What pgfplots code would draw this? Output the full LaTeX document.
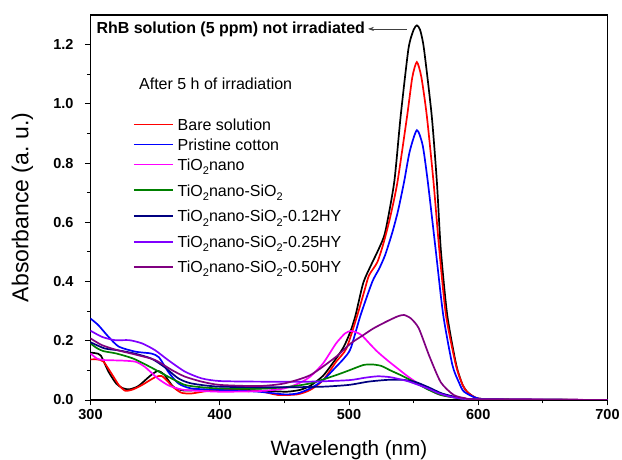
\documentclass[border=0pt]{standalone}
\usepackage{fontspec}
\setmainfont{Liberation Sans}
\usepackage{pgfplots}
\pgfplotsset{compat=1.18}
\usetikzlibrary{arrows.meta}
\definecolor{cnavy}{HTML}{000080}
\definecolor{cviolet}{HTML}{8000FF}
\definecolor{cpurple}{HTML}{800080}
\definecolor{cgreen}{HTML}{008000}
\definecolor{cmag}{HTML}{FF00FF}
\definecolor{cred}{HTML}{FF0000}
\definecolor{cblue}{HTML}{0000FF}
\newcommand\sub[1]{\raisebox{-4.5pt}{\fontsize{11}{11}\selectfont #1}}
\def\lpadval{10pt}
\tikzset{lpad/.store in=\lpadval}
\begin{document}
\begin{tikzpicture}
\begin{axis}[
  scale only axis, width=517pt, height=385pt,
  xmin=300, xmax=700, ymin=0, ymax=1.3,
  xtick={300,400,500,600,700}, ytick={0,0.2,0.4,0.6,0.8,1.0,1.2},
  minor x tick num=1, minor y tick num=1,
  xtick pos=bottom, ytick pos=left, tick align=outside,
  major tick length=5.5pt, minor tick length=3.5pt,
  every tick/.style={black, line width=0.9pt},
  axis line style={line width=1.1pt},
  ticklabel style={font=\fontsize{14.5}{17}\selectfont\bfseries},
  /pgf/number format/assume math mode=true,
  yticklabel style={xshift=-8pt, /pgf/number format/.cd, fixed, fixed zerofill, precision=1},
  every axis x label/.style={at={(axis description cs:0.5,0)}, yshift=-56pt, anchor=base},
  every axis y label/.style={at={(axis description cs:-0.1315,0.5)}, rotate=90, anchor=center},
  xlabel={\fontsize{20.7}{24}\selectfont Wavelength (nm)},
  ylabel={\fontsize{23}{26}\selectfont Absorbance (a.\ u.)},
  legend cell align=left,
  legend image code/.code={\draw[#1, line width=1.7pt] (0pt,0pt) -- (38.7pt,0pt);
     \path[#1, draw=none, fill=none] (0pt,-\lpadval) -- (0pt,\lpadval);},
  legend style={at={(axis cs:332.9,0.9636)}, anchor=north west, draw=none, fill=none,
    inner sep=0pt, outer sep=0pt, row sep=0pt, column sep=4.3pt,
    font=\fontsize{16}{19}\selectfont,
    nodes={inner sep=0pt, text height=11.5pt, text depth=0pt}},
  every axis plot/.append style={line width=1.7pt, smooth, tension=0.4},
]
% RhB not irradiated
\addplot[black, forget plot] coordinates {
(300,0.160)(304,0.158)(308,0.150)(314,0.095)(320,0.055)(325,0.040)(330,0.036)(337,0.047)(346,0.081)(352,0.098)(357,0.086)(364,0.045)(372,0.032)(385,0.034)(400,0.036)(420,0.034)(440,0.030)(452,0.028)(462,0.034)(470,0.048)(480,0.082)(490,0.140)(496,0.180)(501,0.230)(505,0.285)(511,0.395)(517,0.455)(523,0.510)(528,0.567)(535,0.736)(540,0.960)(546,1.186)(550,1.250)(552.5,1.265)(555,1.250)(558,1.186)(564,0.960)(568,0.736)(571,0.510)(576,0.287)(583,0.118)(588,0.050)(592,0.025)(600,0.005)(620,0.002)(700,0.000)};
\addplot[cred, lpad=10pt] coordinates {
(300,0.137)(305,0.137)(310,0.130)(317,0.084)(322,0.050)(327,0.031)(333,0.036)(340,0.051)(350,0.077)(355,0.081)(360,0.062)(363,0.047)(370,0.025)(378,0.022)(391,0.031)(400,0.034)(430,0.030)(445,0.017)(460,0.019)(470,0.034)(480,0.067)(490,0.129)(498,0.174)(506.5,0.287)(512,0.370)(515.5,0.421)(522,0.466)(527,0.534)(532,0.620)(537.5,0.736)(545,0.960)(549,1.090)(552.5,1.141)(556,1.090)(560.2,0.960)(565.4,0.736)(569.8,0.510)(575,0.287)(582.7,0.118)(588,0.050)(592,0.025)(600,0.005)(620,0.002)(700,0.000)};
\addlegendentry{Bare solution}
\addplot[cblue, lpad=10pt] coordinates {
(300,0.275)(306,0.253)(314,0.213)(322,0.180)(335,0.163)(347,0.157)(353,0.144)(360,0.096)(368,0.056)(378,0.039)(400,0.034)(430,0.028)(450,0.019)(460,0.022)(470,0.039)(480,0.067)(490,0.112)(496,0.140)(501.3,0.174)(509,0.287)(518,0.399)(523.3,0.443)(528,0.490)(533.6,0.567)(538,0.640)(542.6,0.736)(547,0.840)(552.5,0.911)(557,0.860)(561,0.736)(567,0.510)(572.9,0.287)(580,0.118)(585,0.060)(589,0.028)(600,0.005)(620,0.002)(700,0.000)};
\addlegendentry{Pristine cotton}
\addplot[cmag, lpad=10pt] coordinates {
(300,0.157)(305,0.140)(310,0.135)(325,0.133)(335,0.129)(342,0.112)(352,0.073)(360,0.050)(368,0.038)(375,0.033)(400,0.028)(430,0.030)(450,0.039)(462,0.058)(470,0.079)(480,0.124)(490,0.191)(497,0.225)(501.5,0.233)(506,0.228)(510,0.218)(516,0.190)(522,0.163)(530,0.133)(537.5,0.107)(546,0.078)(555.5,0.050)(564,0.030)(571,0.017)(585,0.007)(600,0.003)(700,0.000)};
\addlegendentry{TiO\sub{2}nano}
\addplot[cgreen, lpad=15.7pt] coordinates {
(300,0.191)(305,0.175)(310,0.165)(320,0.157)(333,0.140)(346,0.112)(360,0.079)(373,0.051)(386,0.043)(400,0.039)(430,0.038)(450,0.043)(470,0.056)(490,0.084)(500,0.100)(511,0.118)(518,0.120)(525,0.115)(532,0.100)(541,0.082)(550,0.062)(560,0.038)(571,0.017)(585,0.006)(600,0.002)(700,0.000)};
\addlegendentry{TiO\sub{2}nano-SiO\sub{2}}
\addplot[cnavy, lpad=10pt] coordinates {
(300,0.195)(311,0.174)(321,0.168)(334,0.157)(347,0.140)(357,0.112)(368,0.073)(378,0.056)(400,0.045)(450,0.043)(480,0.045)(500,0.051)(515,0.062)(530,0.068)(542,0.068)(552,0.060)(562,0.042)(572,0.022)(585,0.008)(600,0.002)(700,0.000)};
\addlegendentry{TiO\sub{2}nano-SiO\sub{2}-0.12HY}
\addplot[cviolet, lpad=15.7pt] coordinates {
(300,0.234)(309,0.213)(319,0.202)(330,0.202)(340,0.191)(350,0.168)(360,0.135)(373,0.096)(386,0.073)(400,0.064)(430,0.062)(470,0.062)(500,0.067)(512,0.075)(522,0.080)(532,0.077)(545,0.064)(553,0.052)(561,0.039)(570,0.022)(582,0.008)(600,0.002)(700,0.000)};
\addlegendentry{TiO\sub{2}nano-SiO\sub{2}-0.25HY}
\addplot[cpurple, lpad=9.3pt] coordinates {
(300,0.208)(309,0.185)(321,0.168)(337,0.151)(350,0.135)(363,0.101)(373,0.079)(386,0.062)(400,0.051)(430,0.047)(450,0.056)(470,0.084)(490,0.146)(501,0.190)(511,0.219)(519,0.242)(530,0.267)(538,0.283)(542.6,0.287)(548,0.275)(554,0.242)(562,0.150)(571,0.060)(581,0.017)(590,0.006)(600,0.002)(700,0.000)};
\addlegendentry{TiO\sub{2}nano-SiO\sub{2}-0.50HY}
\node[anchor=east, font=\fontsize{16}{19}\selectfont\bfseries, inner sep=0pt] at (axis cs:512.5,1.253) {RhB solution (5 ppm) not irradiated};
\draw[-{Stealth[length=6pt,width=4pt]}, line width=0.6pt, black!75] (axis cs:544.6,1.253) -- (axis cs:514.7,1.253);
\node[anchor=west, font=\fontsize{16}{19}\selectfont, inner sep=0pt] at (axis cs:337.5,1.069) {After 5 h of irradiation};
\end{axis}
\pgfresetboundingbox
\path[use as bounding box] (-90.5pt,-60pt) rectangle (531.5pt,400pt);
\end{tikzpicture}
\end{document}
